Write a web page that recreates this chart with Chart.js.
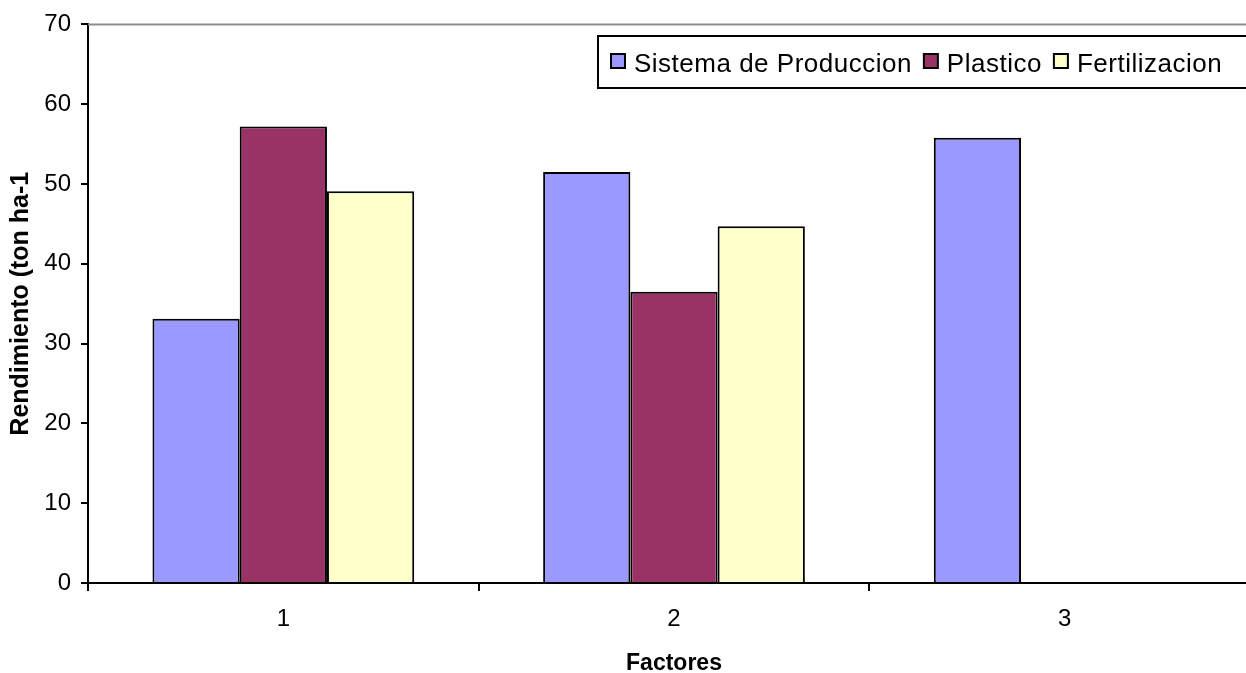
<!DOCTYPE html>
<html>
<head>
<meta charset="utf-8">
<script src="https://cdn.jsdelivr.net/npm/chart.js@4.4.1/dist/chart.umd.min.js"></script>
<style>
  html, body { margin: 0; padding: 0; background: #fff; overflow: hidden; }
  canvas { display: block; }
</style>
</head>
<body>
<canvas id="chart" width="1280" height="673" style="width:1280px;height:673px"></canvas>
<script>
// Rendimiento por factor y nivel
const categories = ['1', '2', '3'];
const seriesNames = ['Sistema de Produccion', 'Plastico', 'Fertilizacion'];
const sistemaProduccion = [33.1, 51.5, 55.8];
const plastico = [57.2, 36.5, null];
const fertilizacion = [49.1, 44.7, null];
const yMin = 0, yMax = 70, yStep = 10;

const colors = ['#9999FF', '#993366', '#FFFFCC'];
const FONT = '"Liberation Sans", Arial, Helvetica, sans-serif';

// Grey line along the top edge of the plot area
const plotFrame = {
  id: 'plotFrame',
  afterDatasetsDraw(chart) {
    const { ctx, chartArea: a } = chart;
    ctx.save();
    ctx.strokeStyle = '#8c8c8c';
    ctx.lineWidth = 2;
    ctx.beginPath();
    ctx.moveTo(a.left, a.top);
    ctx.lineTo(chart.width, a.top);
    ctx.stroke();
    ctx.restore();
  }
};

// Boxed legend in the upper right, one row
const boxedLegend = {
  id: 'boxedLegend',
  afterDraw(chart) {
    const ctx = chart.ctx;
    const left = 598, top = 36, height = 52;
    ctx.save();
    ctx.fillStyle = '#fff';
    ctx.fillRect(left, top, chart.width - left + 10, height);
    ctx.strokeStyle = '#000';
    ctx.lineWidth = 2;
    ctx.strokeRect(left, top, chart.width - left + 10, height);
    ctx.font = '26px ' + FONT;
    ctx.letterSpacing = '0.5px';
    ctx.textBaseline = 'alphabetic';
    ctx.textAlign = 'left';
    let x = 611;
    chart.data.datasets.forEach(ds => {
      ctx.fillStyle = ds.backgroundColor;
      ctx.fillRect(x, 54, 14, 14);
      ctx.lineWidth = 2;
      ctx.strokeStyle = '#000';
      ctx.strokeRect(x, 54, 14, 14);
      ctx.fillStyle = '#000';
      ctx.fillText(ds.label, x + 23, 72);
      x += 23 + ctx.measureText(ds.label).width + 12;
    });
    ctx.restore();
  }
};

const datasets = [sistemaProduccion, plastico, fertilizacion].map((values, i) => ({
  label: seriesNames[i],
  data: values,
  backgroundColor: colors[i],
  borderColor: '#000',
  borderWidth: 2,
  barPercentage: 1.0,
  categoryPercentage: 0.67
}));

new Chart(document.getElementById('chart'), {
  type: 'bar',
  data: { labels: categories, datasets },
  options: {
    responsive: false,
    animation: false,
    layout: { padding: { left: 0, top: 22.5, right: 20, bottom: 0 } },
    plugins: {
      legend: { display: false },
      tooltip: { enabled: false }
    },
    scales: {
      x: {
        afterFit(scale) { scale.height = 90; },
        border: { display: true, color: '#000', width: 2 },
        grid: { drawOnChartArea: false, drawTicks: true, tickLength: 8, color: '#000', lineWidth: 2, offset: true },
        ticks: { color: '#000', font: { family: FONT, size: 24 }, padding: 14, maxRotation: 0, autoSkip: false },
        title: { display: true, text: 'Factores', color: '#000', font: { family: FONT, size: 23, weight: 'bold' }, padding: { top: 0, bottom: -4 } }
      },
      y: {
        min: yMin,
        max: yMax,
        afterFit(scale) { scale.width = 88; },
        border: { display: true, color: '#000', width: 2 },
        grid: { drawOnChartArea: false, drawTicks: true, tickLength: 7, color: '#000', lineWidth: 2 },
        ticks: { stepSize: yStep, color: '#000', font: { family: FONT, size: 24 }, padding: 10 },
        title: { display: true, text: 'Rendimiento (ton ha-1', color: '#000', font: { family: FONT, size: 25, weight: 'bold' }, padding: { top: 6, bottom: 0 } }
      }
    }
  },
  plugins: [plotFrame, boxedLegend]
});
</script>
</body>
</html>
